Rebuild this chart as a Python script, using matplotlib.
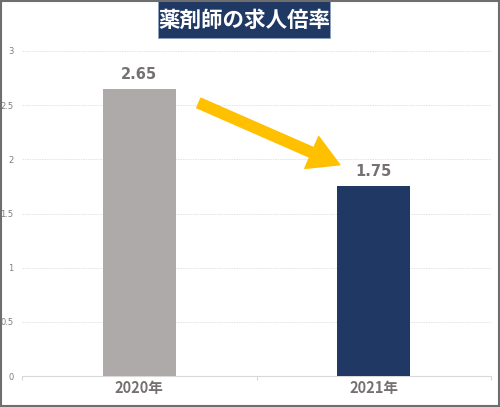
import matplotlib
matplotlib.use("Agg")
import matplotlib.pyplot as plt
from matplotlib.patches import Rectangle

plt.rcParams['font.family'] = ['Noto Sans CJK JP', 'DejaVu Sans']

categories = ["2020年", "2021年"]
values = [2.65, 1.75]
bar_colors = ["#AEAAAA", "#203864"]
yticks = [0, 0.5, 1, 1.5, 2, 2.5, 3]
ytick_labels = ["0", "0.5", "1", "1.5", "2", "2.5", "3"]
title = "薬剤師の求人倍率"

W, H = 500, 407
fig = plt.figure(figsize=(W / 100, H / 100), dpi=100)
ax = fig.add_axes([22 / W, 31 / H, 469 / W, 325 / H])

x = list(range(len(categories)))
ax.bar(x, values, width=0.31, color=bar_colors, zorder=3)
ax.set_xlim(-0.5, 1.5)
ax.set_ylim(0, 3)

ax.set_yticks(yticks)
ax.set_yticklabels(ytick_labels, fontsize=6, color="#7F7F7F", family=['DejaVu Sans'])
ax.tick_params(axis='y', length=0, pad=6)
ax.grid(axis='y', color="#E3E3E3", linewidth=0.7, linestyle=(0, (1.5, 1)), zorder=0)

ax.set_xticks([-0.5, 0.5, 1.5], minor=False)
ax.set_xticklabels(["", "", ""])
ax.tick_params(axis='x', which='major', length=3, color="#D9D9D9", width=0.8)
ax.set_xticks(x, minor=True)
ax.set_xticklabels(categories, minor=True, fontsize=10.5, fontweight='bold', color="#767171")
ax.tick_params(axis='x', which='minor', length=0, pad=3)

for s in ['top', 'right', 'left']:
    ax.spines[s].set_visible(False)
ax.spines['bottom'].set_color("#D9D9D9")
ax.spines['bottom'].set_linewidth(0.8)

for xi, v in zip(x, values):
    ax.annotate(f"{v:.2f}", (xi, v), xytext=(0, 5), textcoords='offset points',
                ha='center', va='bottom', fontsize=10.5, fontweight='bold', color="#767171",
                family=['DejaVu Sans'])

# yellow arrow
ax.annotate("", xy=(0.855, 1.95), xytext=(0.254, 2.52),
            arrowprops=dict(arrowstyle="simple,head_length=2.2,head_width=2.5,tail_width=0.75",
                            color="#FFC000", mutation_scale=10, shrinkA=0, shrinkB=0),
            zorder=5)

# title box
fig.patches.append(Rectangle((158 / W, 1 - 38 / H), 172 / W, 37 / H,
                             transform=fig.transFigure, facecolor="#203864",
                             edgecolor="#8EA0C0", linewidth=0.6, zorder=5))
fig.text(244 / W, 1 - 20 / H, title, ha='center', va='center', fontsize=15.5,
         fontweight='bold', color='white', zorder=6)

# outer border
fig.patches.append(Rectangle((0.002, 0.002), 0.996, 0.996, transform=fig.transFigure,
                             facecolor='none', edgecolor="#6E6E6E", linewidth=1.5, zorder=10))

fig.savefig("out.png", dpi=100)
